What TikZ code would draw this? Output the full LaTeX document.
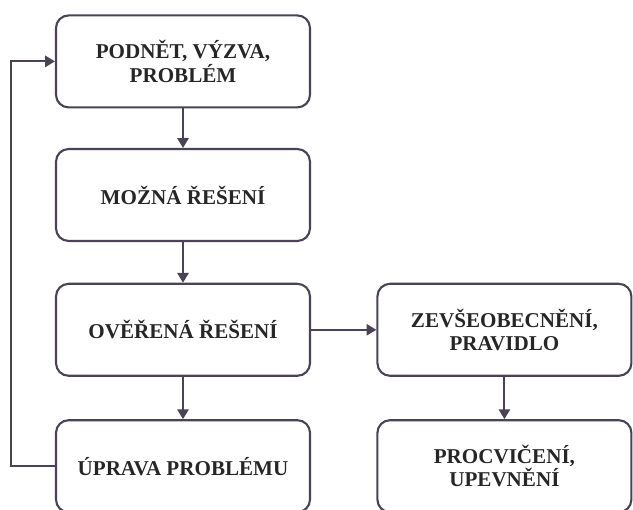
\documentclass[tikz,border=0pt]{standalone}
\usepackage{fontspec}
\setmainfont{Liberation Serif}
\usetikzlibrary{positioning}
\usetikzlibrary{arrows.meta}
\definecolor{linec}{HTML}{4B4256}
\definecolor{textc}{HTML}{262626}
\tikzset{
    mynode/.style = {rectangle, rounded corners=9pt, line width=1.5pt, draw=linec, align=center, minimum width=6.35cm, minimum height=2.3cm, text=textc, font=\fontsize{15}{16.5}\selectfont\bfseries},
    edgen/.style = {-{Triangle[width=8pt,length=7pt]}, line width=1.5pt, linec},
}
\begin{document}
\begin{tikzpicture}
%
\path[use as bounding box] (0,0) rectangle (15.825,12.725);
%
\node[mynode] at (4.575,11.19) (a) {PODNĚT, VÝZVA,\\PROBLÉM};
\node[mynode] at (4.575,7.85) (b) {MOŽNÁ ŘEŠENÍ};
\node[mynode] at (4.575,4.48) (c) {OVĚŘENÁ ŘEŠENÍ};
\node[mynode] at (4.575,1.07) (d) {ÚPRAVA PROBLÉMU};
\node[mynode] at (12.61,4.48) (e) {ZEVŠEOBECNĚNÍ,\\PRAVIDLO};
\node[mynode] at (12.61,1.07) (f) {PROCVIČENÍ,\\UPEVNĚNÍ};
%
\draw[edgen] (a) -- (b);
\draw[edgen] (b) -- (c);
\draw[edgen] (c) -- (d);
\draw[edgen] (c) -- (e);
\draw[edgen] (e) -- (f);
\draw[edgen] (d.west) -- ++(-1.1,0) |- (a.west);

\end{tikzpicture}
\end{document}
